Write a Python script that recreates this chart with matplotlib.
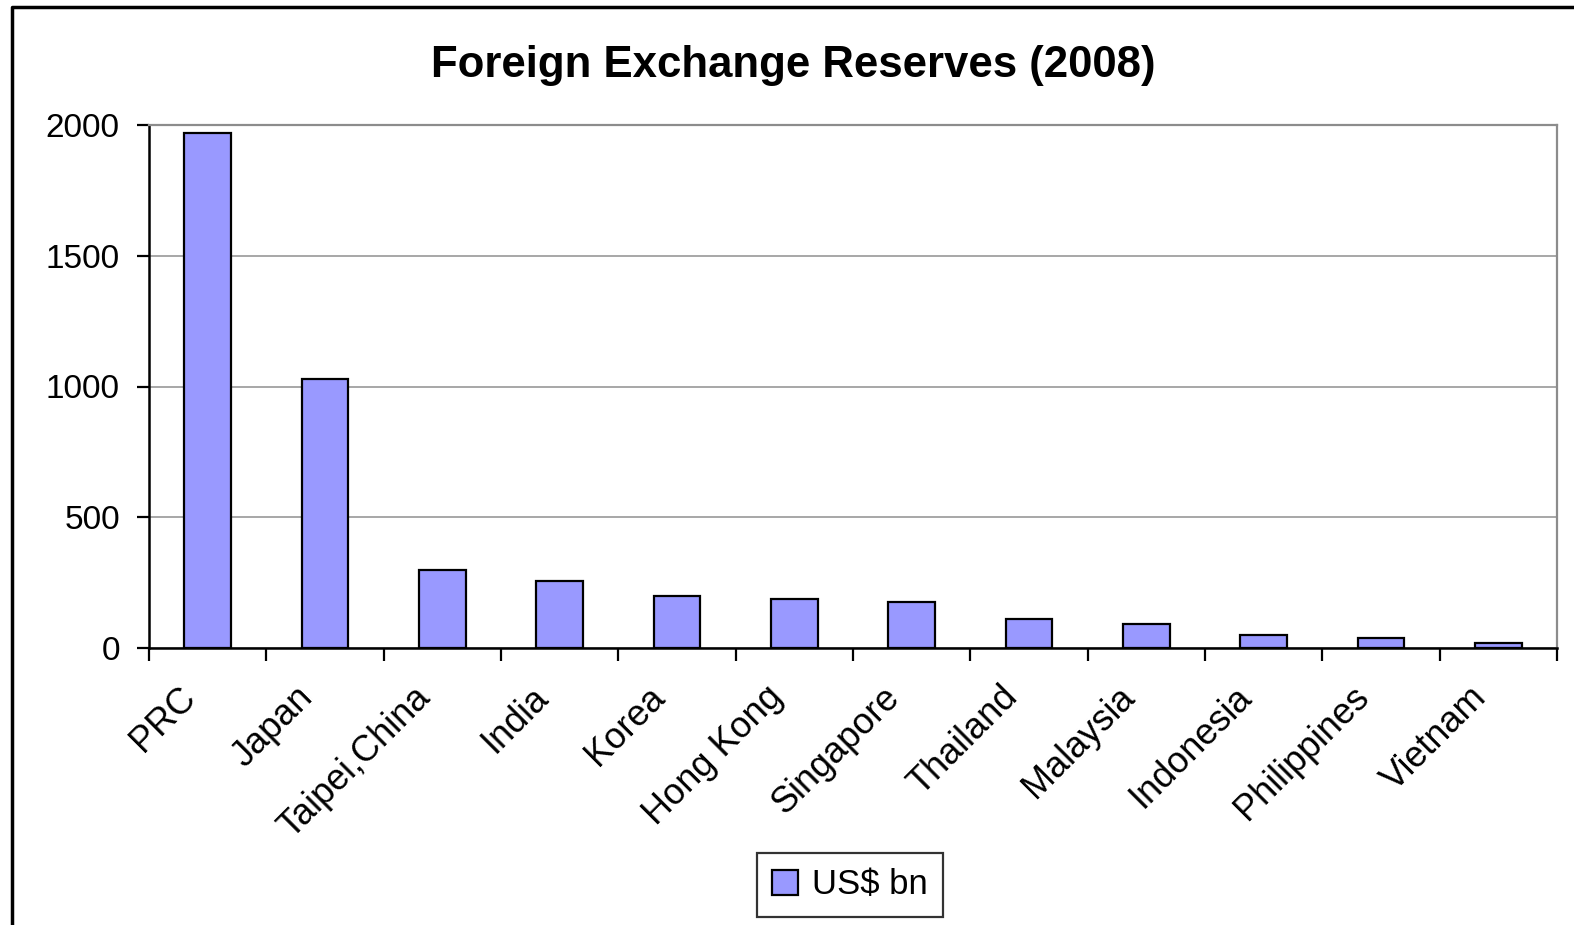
import numpy as np
import matplotlib
matplotlib.use('Agg')
import matplotlib.pyplot as plt
import matplotlib.transforms as mtransforms
from matplotlib.lines import Line2D

plt.rcParams['font.family'] = ['Liberation Sans', 'DejaVu Sans']

countries = ['PRC', 'Japan', 'Taipei,China', 'India', 'Korea', 'Hong Kong',
             'Singapore', 'Thailand', 'Malaysia', 'Indonesia', 'Philippines', 'Vietnam']
reserves = [1970, 1030, 300, 258, 198, 186, 176, 110, 92, 50, 38, 20]
yticks = [0, 500, 1000, 1500, 2000]

fig = plt.figure(figsize=(15.74, 9.25), dpi=100)
ax = fig.add_axes([149 / 1574, 1 - 648 / 925, 1408 / 1574, 523 / 925])

x = np.arange(len(countries))
bars = ax.bar(x, reserves, width=0.4, color='#9999FF', edgecolor='black',
              linewidth=1.6, label='US$ bn', zorder=3)

ax.set_xlim(-0.5, len(countries) - 0.5)
ax.set_ylim(0, 2000)
ax.set_yticks(yticks)
ax.yaxis.grid(True, color='#a0a0a0', linewidth=1.3, zorder=0)

# category labels, rotated, with their end just below-left of the category centre
ax.set_xticks(x)
ax.set_xticklabels([''] * len(countries))
offset = mtransforms.ScaledTranslation(-17 / 100, -44 / 100, fig.dpi_scale_trans)
for i, name in enumerate(countries):
    ax.text(i, 0, name, transform=ax.get_xaxis_transform() + offset,
            rotation=45, rotation_mode='anchor', ha='right', va='center',
            fontsize=26)
ax.set_xticks(np.arange(-0.5, len(countries)), minor=True)
ax.tick_params(axis='x', which='major', length=0)
ax.tick_params(axis='x', which='minor', length=9, width=1.6, direction='out')
ax.tick_params(axis='y', length=9, width=1.6, direction='out', labelsize=24, pad=12)

for s in ['top', 'right']:
    ax.spines[s].set_color('#8c8c8c')
    ax.spines[s].set_linewidth(1.6)
for s in ['left', 'bottom']:
    ax.spines[s].set_color('black')
    ax.spines[s].set_linewidth(1.8)
ax.spines['bottom'].set_zorder(4)

fig.text(793 / 1574, 1 - 65 / 925, 'Foreign Exchange Reserves (2008)',
         ha='center', va='center', fontsize=31.5, fontweight='bold')

leg = fig.legend(handles=[bars], labels=['US$ bn'], loc='center',
                 bbox_to_anchor=(850 / 1574, 1 - 885 / 925), fontsize=25,
                 frameon=True, fancybox=False, edgecolor='black',
                 handlelength=0.75, handleheight=0.75, handletextpad=0.4,
                 borderpad=0.45, borderaxespad=0)
leg.get_frame().set_linewidth(1.6)

# outer chart border (left and top edges visible)
fig.add_artist(Line2D([12 / 1574, 12 / 1574, 1.0], [0.0, 1 - 7 / 925, 1 - 7 / 925],
                      transform=fig.transFigure, color='black', linewidth=2.5))

fig.savefig('out.png', dpi=100)
